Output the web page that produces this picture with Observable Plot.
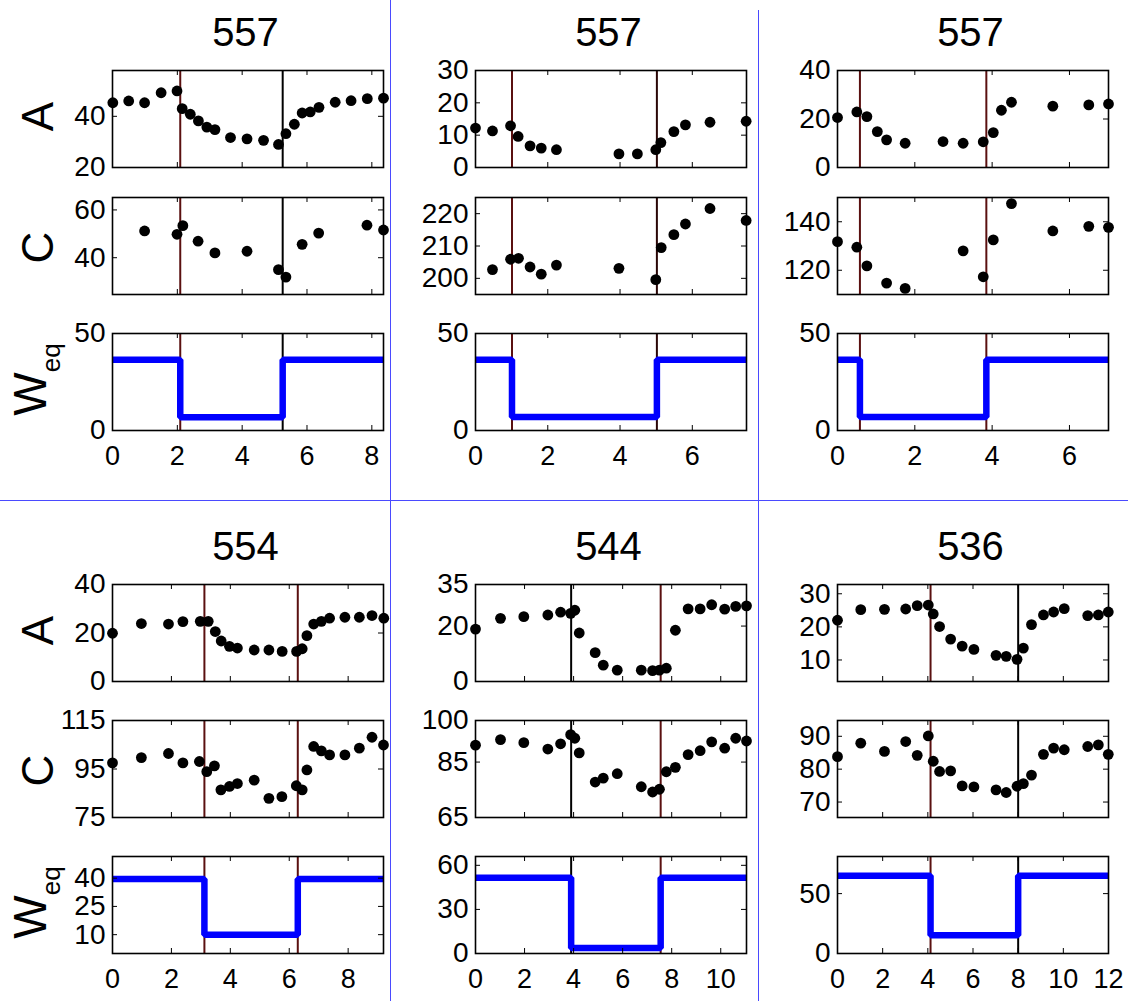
<!DOCTYPE html>
<html>
<head>
<meta charset="utf-8">
<script src="https://cdn.jsdelivr.net/npm/d3@7"></script>
<script src="https://cdn.jsdelivr.net/npm/@observablehq/plot@0.6"></script>
<style>
  body { margin: 0; background: #fff; }
  #fig { position: relative; width: 1128px; height: 1001px; overflow: hidden; background: #fff;
         font-family: "Liberation Sans", Arial, Helvetica, sans-serif; color: #000; }
  #fig svg { overflow: visible; }
  .sep { position: absolute; background: #4a4aff; }
  .title { position: absolute; font-size: 40px; line-height: 1; transform: translateX(-50%); white-space: nowrap; }
</style>
</head>
<body>
<div id="fig"></div>
<script>
// ---- Panel titles ----
const titles = ["557", "557", "557", "554", "544", "536"];

// ---- Panel 1 ----
const t1A = [0.01, 0.50, 0.99, 1.50, 1.99, 2.15, 2.40, 2.65, 2.91, 3.16, 3.64, 4.15, 4.66, 5.12, 5.35, 5.61, 5.85, 6.10, 6.37, 6.87, 7.36, 7.86, 8.36];
const v1A = [45.3, 46.0, 45.3, 49.2, 49.9, 43.0, 40.8, 38.2, 35.8, 34.8, 31.7, 31.2, 30.6, 29.0, 33.2, 36.9, 41.3, 41.7, 43.5, 45.5, 46.1, 46.9, 47.1];
const t1C = [0.99, 1.99, 2.17, 2.64, 3.16, 4.15, 5.12, 5.35, 5.85, 6.36, 7.85, 8.36];
const v1C = [51.2, 49.8, 53.4, 46.9, 42.0, 42.7, 35.0, 31.9, 45.6, 50.3, 53.6, 51.6];

// ---- Panel 2 ----
const t2A = [0, 0.47, 0.97, 1.18, 1.51, 1.82, 2.24, 3.97, 4.48, 4.99, 5.13, 5.49, 5.81, 6.49, 7.49];
const v2A = [12.2, 11.3, 12.9, 9.6, 6.7, 6.0, 5.5, 4.2, 4.2, 5.5, 7.7, 11.1, 13.2, 14.0, 14.3];
const t2C = [0.47, 0.97, 1.19, 1.51, 1.82, 2.24, 3.97, 4.99, 5.14, 5.49, 5.81, 6.49, 7.49];
const v2C = [202.7, 205.9, 206.2, 203.5, 201.3, 204.1, 203.1, 199.6, 209.5, 213.5, 216.8, 221.6, 217.9];

// ---- Panel 3 ----
const t3A = [0, 0.50, 0.76, 1.03, 1.27, 1.75, 2.73, 3.25, 3.77, 4.03, 4.24, 4.50, 5.57, 6.50, 7.01];
const v3A = [20.6, 22.9, 21.0, 14.8, 11.4, 10.0, 10.7, 10.0, 10.6, 14.4, 23.6, 26.9, 25.3, 25.8, 26.2];
const t3C = [0, 0.50, 0.76, 1.27, 1.75, 3.25, 3.77, 4.03, 4.50, 5.57, 6.50, 7.01];
const v3C = [131.8, 129.5, 121.8, 114.7, 112.5, 128.0, 117.3, 132.5, 147.5, 136.2, 138.1, 137.7];

// ---- Panel 4 ----
const t4A = [0, 0.98, 1.90, 2.39, 2.98, 3.25, 3.49, 3.69, 3.97, 4.24, 4.81, 5.31, 5.76, 6.25, 6.44, 6.60, 6.83, 7.09, 7.37, 7.89, 8.38, 8.81, 9.21];
const v4A = [19.9, 23.9, 23.7, 24.7, 24.8, 24.8, 20.6, 16.7, 14.5, 13.8, 13.0, 13.0, 12.4, 12.4, 13.5, 18.9, 23.7, 24.8, 26.1, 26.5, 26.5, 27.2, 26.1];
const t4C = [0, 0.98, 1.90, 2.39, 2.95, 3.20, 3.46, 3.68, 3.97, 4.24, 4.81, 5.31, 5.75, 6.24, 6.44, 6.60, 6.83, 7.09, 7.37, 7.89, 8.38, 8.81, 9.20];
const v4C = [97.5, 99.7, 101.4, 97.5, 98.1, 93.9, 96.3, 86.4, 87.8, 89.0, 90.4, 82.9, 83.6, 88.1, 86.4, 94.6, 104.3, 102.5, 100.8, 100.8, 103.6, 108.1, 104.9];

// ---- Panel 5 ----
const t5A = [0, 1.02, 1.97, 2.95, 3.47, 3.88, 4.05, 4.23, 4.88, 5.21, 5.78, 6.76, 7.22, 7.50, 7.78, 8.15, 8.67, 9.16, 9.63, 10.16, 10.61, 11.05];
const v5A = [18.9, 22.8, 23.4, 24.0, 25.0, 24.6, 25.7, 17.5, 10.4, 5.9, 4.1, 4.1, 3.9, 4.1, 4.8, 18.5, 26.2, 26.2, 27.7, 26.1, 27.1, 27.3];
const t5C = t5A;
const v5C = [91.1, 93.1, 92.0, 89.7, 91.6, 94.9, 93.6, 88.3, 77.8, 79.2, 80.8, 76.1, 74.2, 75.2, 81.5, 83.1, 87.7, 89.1, 92.3, 90.0, 93.6, 92.6];

// ---- Panel 6 ----
const t6A = [0, 1.03, 2.08, 3.02, 3.53, 4.02, 4.24, 4.52, 5.01, 5.52, 6.04, 7.02, 7.47, 7.95, 8.23, 8.59, 9.12, 9.57, 10.04, 11.08, 11.55, 11.99];
const v6A = [22.0, 25.2, 25.3, 25.4, 26.4, 26.6, 23.9, 20.1, 16.3, 14.2, 13.2, 11.4, 11.1, 10.2, 13.6, 20.7, 23.6, 24.5, 25.5, 23.4, 23.6, 24.5];
const t6C = t6A;
const v6C = [83.8, 87.9, 85.4, 88.4, 84.2, 90.1, 82.4, 79.3, 79.5, 74.9, 74.6, 73.7, 72.9, 74.8, 75.6, 78.2, 84.5, 86.4, 85.9, 86.9, 87.4, 84.5];

// ---- Switch times and equivalent W levels ----
const switchTimes = [[2.09, 5.25], [1.01, 5.02], [0.58, 3.85], [3.12, 6.29], [3.90, 7.55], [4.12, 8.0]];
const weqHigh = [36.5, 36.5, 36.5, 39.5, 51.5, 64.9];
const weqLow = [6.8, 7.0, 7.0, 10.0, 3.8, 15.2];

// ---- Axis extents and ticks ----
const xMax = [8.36, 7.5, 7.01, 9.2, 11.05, 12];
const aDomain = [[20, 57.9], [0, 30], [0, 40], [0, 40], [0, 35], [3.5, 32.8]];
const cDomain = [[24.6, 65.2], [195, 225], [110, 150], [75, 115], [65, 100], [65.3, 94.8]];
const wDomain = [[0, 50], [0, 50], [0, 50], [0, 51.5], [0, 66], [0, 81]];
const aTicks = [[20, 40], [0, 10, 20, 30], [0, 20, 40], [0, 20, 40], [0, 20, 35], [10, 20, 30]];
const cTicks = [[40, 60], [200, 210, 220], [120, 140], [75, 95, 115], [65, 85, 100], [70, 80, 90]];
const wTicks = [[0, 50], [0, 50], [0, 50], [10, 25, 40], [0, 30, 60], [0, 50]];
const xTicks = [[0, 2, 4, 6, 8], [0, 2, 4, 6], [0, 2, 4, 6], [0, 2, 4, 6, 8], [0, 2, 4, 6, 8, 10], [0, 2, 4, 6, 8, 10, 12]];

const dark = "#5a1010";
const lineColors = [[dark, "#000"], [dark, "#2a0606"], [dark, dark], [dark, dark], ["#000", dark], [dark, "#000"]];

const series = [
  {tA: t1A, vA: v1A, tC: t1C, vC: v1C},
  {tA: t2A, vA: v2A, tC: t2C, vC: v2C},
  {tA: t3A, vA: v3A, tC: t3C, vC: v3C},
  {tA: t4A, vA: v4A, tC: t4C, vC: v4C},
  {tA: t5A, vA: v5A, tC: t5C, vC: v5C},
  {tA: t6A, vA: v6A, tC: t6C, vC: v6C}
];

// ---- Layout ----
const fig = document.getElementById("fig");
const colLeft = [112, 475, 837];
const frameW = 271, frameH = 97;
const rowTops = [{A: 70, C: 197, W: 333}, {A: 584, C: 720, W: 856}];
const font = '"Liberation Sans", Arial, Helvetica, sans-serif';

function subplot(p, kind) {
  const col = p % 3, row = Math.floor(p / 3);
  const left = colLeft[col], top = rowTops[row][kind];
  const mL = 90, mR = 12, mT = 12, mB = kind === "W" ? 50 : 12;
  const yDomain = kind === "A" ? aDomain[p] : kind === "C" ? cDomain[p] : wDomain[p];
  const yT = kind === "A" ? aTicks[p] : kind === "C" ? cTicks[p] : wTicks[p];
  const xT = xTicks[p];
  const [s1, s2] = switchTimes[p];
  const marks = [
    Plot.ruleX([s1], {stroke: lineColors[p][0], strokeWidth: 2}),
    Plot.ruleX([s2], {stroke: lineColors[p][1], strokeWidth: 2})
  ];
  if (kind === "W") {
    const wx = [0, s1, s2, xMax[p]];
    const wy = [weqHigh[p], weqLow[p], weqHigh[p], weqHigh[p]];
    marks.push(Plot.line(wy, {x: wx, y: wy, curve: "step-after", stroke: "#0000ff", strokeWidth: 6.5, strokeLinejoin: "miter", strokeLinecap: "butt"}));
  } else {
    const s = series[p];
    const tx = kind === "A" ? s.tA : s.tC;
    const vy = kind === "A" ? s.vA : s.vC;
    marks.push(Plot.dot(vy, {x: tx, y: vy, r: 5.4, fill: "#000", stroke: "none"}));
  }
  // inward tick marks on all four sides
  marks.push(
    Plot.tickY(yT, {y: d => d, insetRight: frameW - 5, stroke: "#000"}),
    Plot.tickY(yT, {y: d => d, insetLeft: frameW - 5, stroke: "#000"}),
    Plot.tickX(xT, {x: d => d, insetBottom: frameH - 5, stroke: "#000"}),
    Plot.tickX(xT, {x: d => d, insetTop: frameH - 5, stroke: "#000"}),
    Plot.frame({stroke: "#000", strokeWidth: 1.6}),
    Plot.axisY({ticks: yT, tickSize: 0, tickPadding: 7, label: null, fontSize: 28, tickFormat: d => String(d)})
  );
  if (kind === "W") {
    marks.push(Plot.axisX({ticks: xT, tickSize: 0, tickPadding: 15, label: null, fontSize: 27, tickFormat: d => String(d)}));
  }
  const chart = Plot.plot({
    width: mL + frameW + mR,
    height: mT + frameH + mB,
    marginLeft: mL, marginRight: mR, marginTop: mT, marginBottom: mB,
    x: kind === "W" ? {domain: [0, xMax[p]]} : {domain: [0, xMax[p]], axis: null},
    y: {domain: yDomain},
    style: {fontFamily: font, fontSize: "28px", color: "#000", background: "transparent", overflow: "visible"},
    marks
  });
  chart.style.position = "absolute";
  chart.style.left = (left - mL) + "px";
  chart.style.top = (top - mT) + "px";
  fig.appendChild(chart);
}

for (let p = 0; p < 6; p++) {
  for (const kind of ["A", "C", "W"]) subplot(p, kind);
  const col = p % 3, row = Math.floor(p / 3);
  const t = document.createElement("div");
  t.className = "title";
  t.textContent = titles[p];
  t.style.left = (colLeft[col] + frameW / 2 - 2) + "px";
  t.style.top = (row === 0 ? 12 : 526) + "px";
  fig.appendChild(t);
}

// Row labels on the left column
const lab = d3.create("svg").attr("width", 1128).attr("height", 1001)
  .style("position", "absolute").style("left", "0px").style("top", "0px")
  .style("font-family", font).style("pointer-events", "none");
for (let row = 0; row < 2; row++) {
  const r = rowTops[row];
  lab.append("text").attr("transform", `translate(53,${r.A + frameH / 2 - 2}) rotate(-90)`)
    .attr("text-anchor", "middle").attr("font-size", 44).text("A");
  lab.append("text").attr("transform", `translate(53,${r.C + frameH / 2 + 2}) rotate(-90)`)
    .attr("text-anchor", "middle").attr("font-size", 44).text("C");
  const w = lab.append("text").attr("transform", `translate(46,${r.W + frameH / 2 - 2}) rotate(-90)`)
    .attr("text-anchor", "middle").attr("font-size", 46);
  w.append("tspan").text("W");
  w.append("tspan").attr("font-size", 26).attr("dy", 14).text("eq");
}
fig.appendChild(lab.node());

// Blue separators between panels
function sep(l, t, w, h) {
  const d = document.createElement("div");
  d.className = "sep";
  Object.assign(d.style, {left: l + "px", top: t + "px", width: w + "px", height: h + "px"});
  fig.appendChild(d);
}
sep(390, 0, 1, 1001);
sep(758, 10, 1, 991);
sep(0, 500, 1128, 1);
</script>
</body>
</html>
